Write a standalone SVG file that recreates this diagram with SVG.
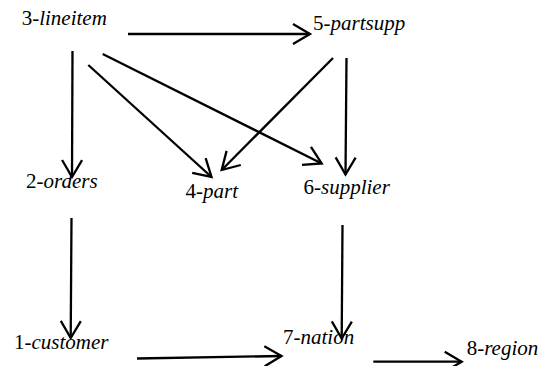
<svg xmlns="http://www.w3.org/2000/svg" width="551" height="366" viewBox="0 0 551 366">
  <style>
    .lbl { font-family: "Liberation Serif", "Times New Roman", serif; font-size: 21px; fill: #000; }
    .it { font-style: italic; }
    .edge { fill: none; stroke: #000; stroke-width: 2.3; marker-end: url(#open); }
  </style>
  <defs>
    <marker id="open" markerUnits="userSpaceOnUse" viewBox="-20 -12 22 24" refX="0" refY="0" markerWidth="22" markerHeight="24" orient="auto" overflow="visible">
      <path d="M-17,-10 L0,0 L-17,10" fill="none" stroke="#000" stroke-width="2.3" stroke-linejoin="miter"/>
    </marker>
  </defs>
  <rect width="551" height="366" fill="#fff"/>

  <g id="connectors">
    <line class="edge" x1="128" y1="34" x2="310" y2="34"/>
    <line class="edge" x1="72.5" y1="51" x2="72" y2="177"/>
    <line class="edge" x1="88.3" y1="65" x2="211.5" y2="177"/>
    <line class="edge" x1="102.7" y1="54" x2="321.7" y2="163.5"/>
    <line class="edge" x1="333" y1="58" x2="221.7" y2="170"/>
    <line class="edge" x1="346.5" y1="58" x2="345.5" y2="174.5"/>
    <line class="edge" x1="71.5" y1="218" x2="70.7" y2="338"/>
    <line class="edge" x1="342.5" y1="225" x2="341.7" y2="338.5"/>
    <line class="edge" x1="137" y1="358.5" x2="281.5" y2="356"/>
    <line class="edge" x1="373.3" y1="361.7" x2="461.7" y2="361.7"/>
  </g>

  <g id="n3"><text class="lbl" x="21.7" y="25">3-<tspan class="it">lineitem</tspan></text></g>
  <g id="n5"><text class="lbl" x="313" y="30">5-<tspan class="it">partsupp</tspan></text></g>
  <g id="n2"><text class="lbl" x="26" y="188">2-<tspan class="it">orders</tspan></text></g>
  <g id="n4"><text class="lbl" x="185.5" y="198">4-<tspan class="it">part</tspan></text></g>
  <g id="n6"><text class="lbl" x="303.5" y="194">6-<tspan class="it">supplier</tspan></text></g>
  <g id="n1"><text class="lbl" x="14" y="349.3">1-<tspan class="it">customer</tspan></text></g>
  <g id="n7"><text class="lbl" x="283" y="344">7-<tspan class="it">nation</tspan></text></g>
  <g id="n8"><text class="lbl" x="466.7" y="355">8-<tspan class="it">region</tspan></text></g>
</svg>
